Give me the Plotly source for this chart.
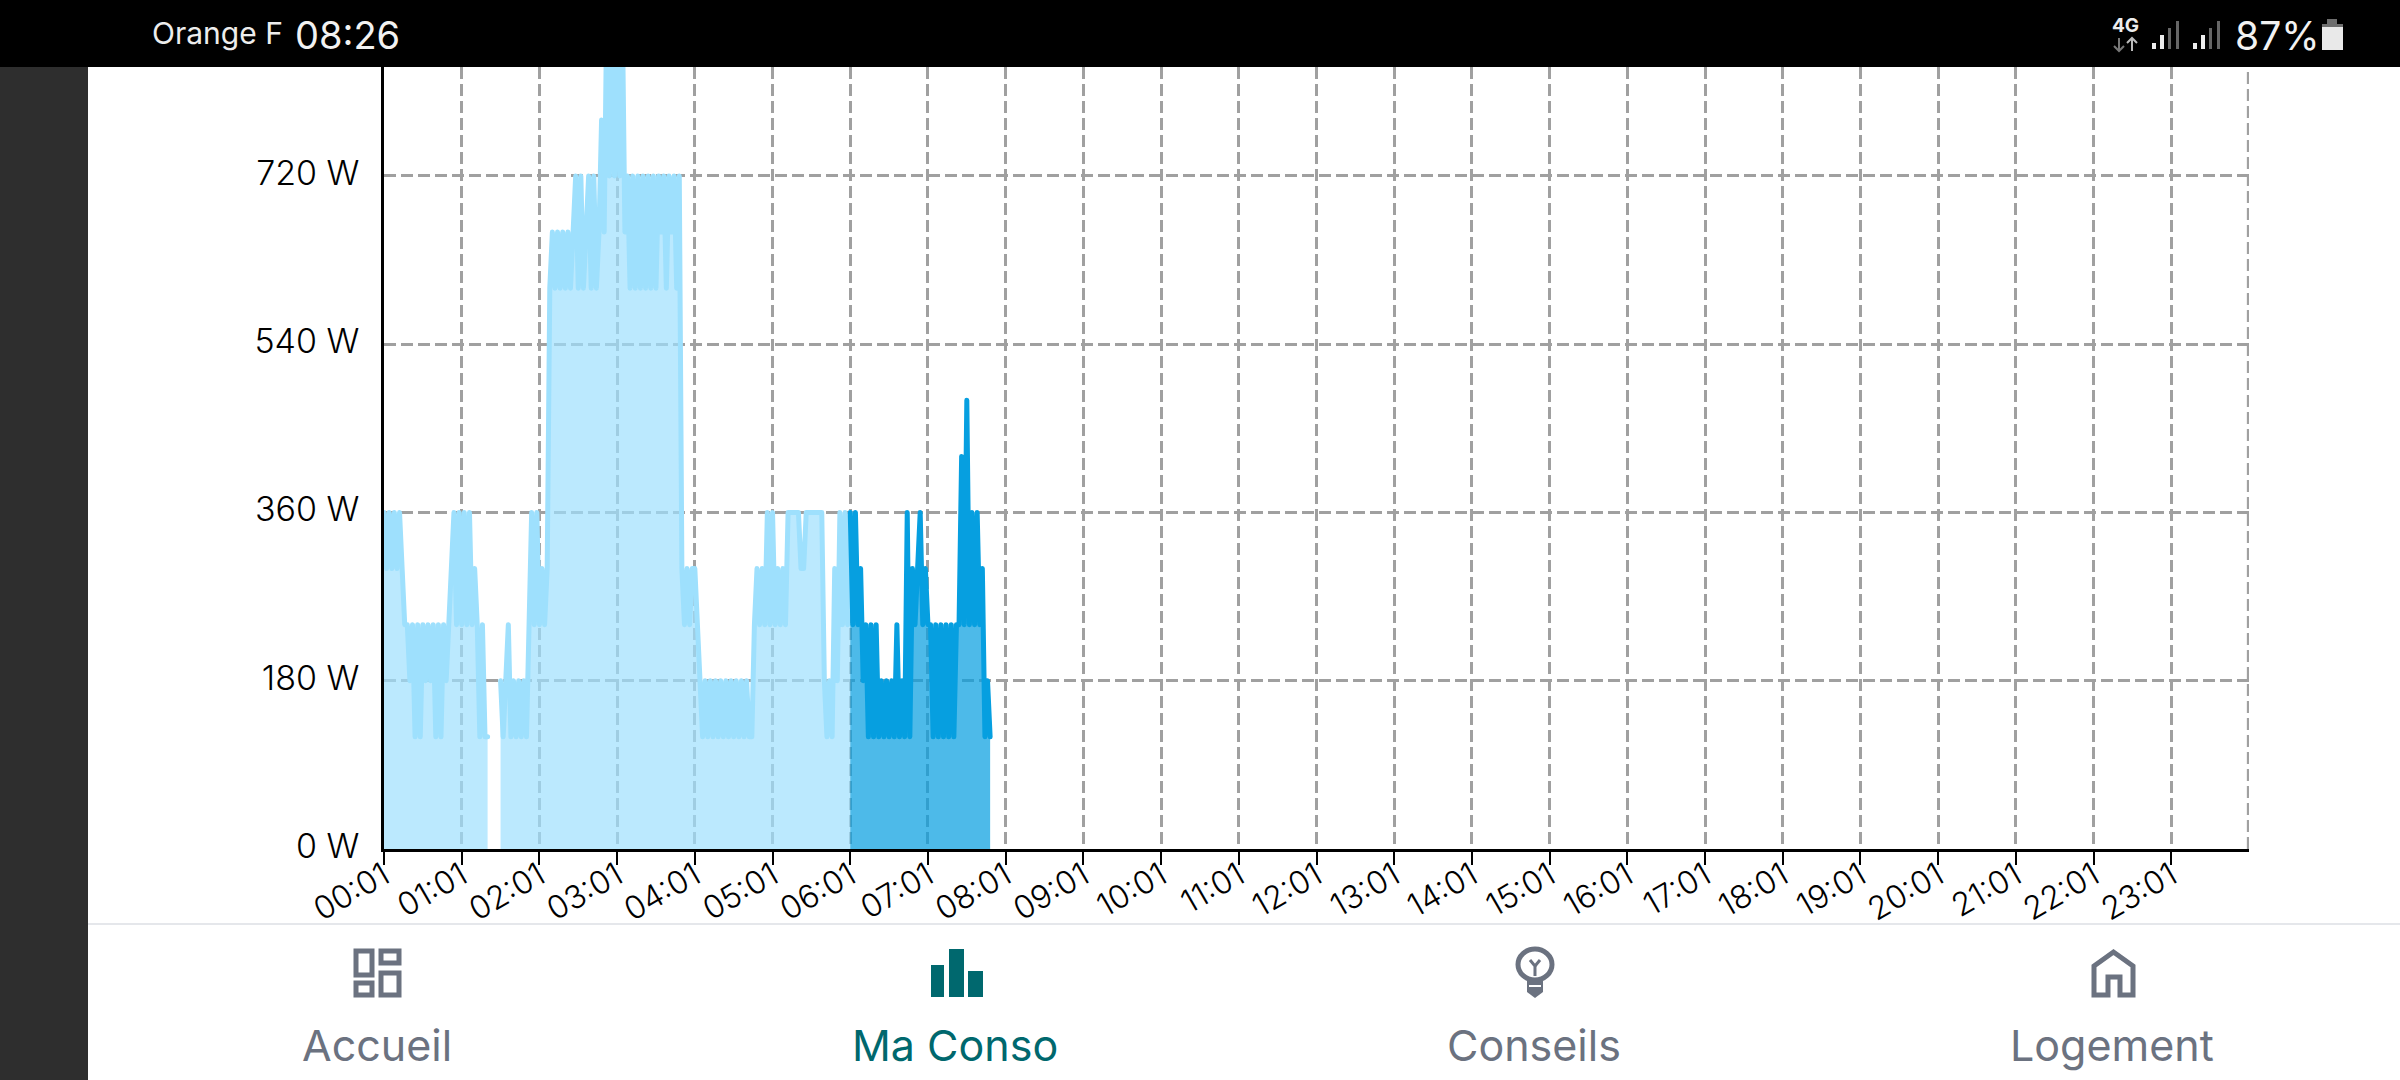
import plotly.graph_objects as go

W, H = 2400, 1080

tick_minutes = [0, 60, 120, 180, 240, 300, 360, 420, 480, 540, 600, 660, 720, 780, 840, 900,
                960, 1020, 1080, 1140, 1200, 1260, 1320, 1380]
tick_labels = ["00:01", "01:01", "02:01", "03:01", "04:01", "05:01", "06:01", "07:01", "08:01",
               "09:01", "10:01", "11:01", "12:01", "13:01", "14:01", "15:01", "16:01", "17:01",
               "18:01", "19:01", "20:01", "21:01", "22:01", "23:01"]
y_ticks = [0, 180, 360, 540, 720]
y_labels = ["0 W", "180 W", "360 W", "540 W", "720 W"]

# Power in watts, one value every two minutes, one row per hour; the feed drops out after minute 80
night_start_minutes = list(range(0, 82, 2))
night_start_watts = [
    360, 300, 360, 300, 360, 300, 360, 300, 240, 240, 180, 240, 120, 240, 120, 240, 180, 240, 180, 240, 120, 240, 120, 240, 180, 240, 300, 360, 240, 360,
    240, 360, 240, 360, 240, 300, 240, 120, 240, 120, 120,
]
earlier_minutes = list(range(90, 362, 2))
earlier_watts = [
    180, 120, 180, 240, 120, 180, 120, 180, 120, 180, 120, 240, 360, 240, 360,
    240, 300, 240, 300, 600, 660, 600, 660, 600, 660, 600, 660, 600, 660, 720, 600, 720, 600, 660, 720, 600, 720, 600, 660, 780, 660, 900, 720, 900, 720,
    900, 720, 900, 660, 720, 600, 720, 600, 720, 600, 720, 600, 720, 600, 720, 600, 720, 660, 720, 600, 720, 660, 720, 600, 720, 300, 240, 300, 240, 300,
    300, 240, 180, 120, 180, 120, 180, 120, 180, 120, 180, 120, 180, 120, 180, 120, 180, 120, 180, 120, 180, 120, 120, 240, 300, 240, 300, 240, 360, 240,
    360, 240, 300, 240, 300, 240, 360, 360, 360, 360, 360, 300, 300, 360, 360, 360, 360, 360, 360, 360, 180, 120, 180, 120, 300, 180, 360, 240, 360, 240,
    360,
]
today_minutes = list(range(360, 470, 2))
today_watts = [
    360, 240, 360, 240, 300, 180, 240, 120, 240, 120, 240, 120, 180, 120, 180, 120, 180, 120, 240, 120, 180, 120, 360, 120, 300, 240, 300, 360, 240, 300,
    240, 240, 120, 240, 120, 240, 120, 240, 120, 240, 120, 240, 240, 420, 240, 480, 240, 360, 240, 360, 240, 300, 120, 180, 120,
]

LIGHT_LINE, LIGHT_FILL = "#9EE0FD", "rgba(158,224,253,0.7)"
DARK_LINE, DARK_FILL = "#069FE0", "rgba(6,159,224,0.715)"
GREY, TEAL = "#6B7280", "#00686E"
GRID = "#A0A0A0"
GRID_DASH = "12px,5px"


def px(x):
    return x / W


def py(y):
    return 1 - y / H


def rect(x0, y0, x1, y1, fill=None, line=None, lw=0):
    return dict(type="rect", xref="paper", yref="paper", x0=px(x0), x1=px(x1), y0=py(y0), y1=py(y1),
                fillcolor=fill or "rgba(0,0,0,0)", line=dict(color=line or "rgba(0,0,0,0)", width=lw), layer="above")


def path(points, color, lw=0, fill=None, close=False):
    d = "M" + " L".join(f"{px(a):.5f},{py(b):.5f}" for a, b in points) + (" Z" if close else "")
    return dict(type="path", xref="paper", yref="paper", path=d, fillcolor=fill or "rgba(0,0,0,0)",
                line=dict(color=color, width=lw), layer="above")


def label(text, x, y, size, color, anchor="center", family="Inter", weight=None):
    return dict(text=text, x=px(x), y=py(y), xref="paper", yref="paper", xanchor=anchor, yanchor="middle",
                showarrow=False, font=dict(size=size, color=color, family=family, weight=weight))


fig = go.Figure()
for xs, ys, line_col, fill_col in [
    (night_start_minutes, night_start_watts, LIGHT_LINE, LIGHT_FILL),
    (earlier_minutes, earlier_watts, LIGHT_LINE, LIGHT_FILL),
    (today_minutes, today_watts, DARK_LINE, DARK_FILL),
]:
    fig.add_trace(go.Scatter(x=xs, y=ys, mode="lines", fill="tozeroy",
                             line=dict(color=line_col, width=5), fillcolor=fill_col, hoverinfo="skip"))

shapes = [
    # closing grid line of the day
    dict(type="line", xref="x", yref="paper", x0=1439.5, x1=1439.5, y0=py(849), y1=py(67), layer="below",
         line=dict(color=GRID, width=3, dash=GRID_DASH)),
    rect(0, 0, 2400, 67, fill="#000000"),
    rect(0, 67, 88, 1080, fill="#2E2E2E"),
    rect(88, 923, 2400, 925, fill="#E5E7EB"),
    # signal bars
    rect(2152, 43, 2156, 49, fill="#EDEDED"), rect(2160, 35, 2164, 49, fill="#EDEDED"),
    rect(2168, 28, 2171, 49, fill="#666666"), rect(2176, 21, 2179, 49, fill="#666666"),
    rect(2193, 43, 2197, 49, fill="#EDEDED"), rect(2201, 35, 2205, 49, fill="#EDEDED"),
    rect(2209, 28, 2212, 49, fill="#666666"), rect(2217, 21, 2220, 49, fill="#666666"),
    # data arrows
    path([(2119, 38), (2119, 51)], "#777777", 2), path([(2114, 46), (2119, 51), (2124, 46)], "#777777", 2),
    path([(2132, 38), (2132, 51)], "#BBBBBB", 2), path([(2127, 43), (2132, 38), (2137, 43)], "#BBBBBB", 2),
    # battery
    rect(2327, 19, 2337, 26, fill="#6E6E6E"), rect(2322, 24, 2343, 27, fill="#6E6E6E"),
    rect(2322, 27, 2343, 50, fill="#E9E9E9"),
    # Accueil
    rect(356, 951, 372, 975, line=GREY, lw=5), rect(381, 951, 399, 963, line=GREY, lw=5),
    rect(356, 983, 372, 995, line=GREY, lw=5), rect(381, 973, 399, 995, line=GREY, lw=5),
    # Ma Conso
    rect(931, 965, 944, 997, fill=TEAL), rect(949, 949, 964, 997, fill=TEAL), rect(968, 971, 983, 997, fill=TEAL),
    # Conseils
    dict(type="circle", xref="paper", yref="paper", x0=px(1518), x1=px(1552), y0=py(949), y1=py(980),
         line=dict(color=GREY, width=5), fillcolor="rgba(0,0,0,0)", layer="above"),
    path([(1527, 978), (1543, 978), (1543, 992), (1535, 998), (1527, 992)], GREY, 0, fill=GREY, close=True),
    rect(1529, 985, 1541, 987, fill="#FFFFFF"),
    path([(1535, 976), (1535, 966), (1530, 960)], GREY, 3), path([(1535, 966), (1540, 960)], GREY, 3),
    # Logement
    path([(2094, 995), (2094, 966), (2113.5, 952), (2133, 966), (2133, 995), (2120, 995), (2120, 977),
          (2108, 977), (2108, 995)], GREY, 5, close=True),
]

annotations = [
    label("Orange F", 150, 33, 30, "#EDEDED", anchor="left"),
    label("08:26", 293, 35, 38, "#F2F2F2", anchor="left"),
    label("4G", 2125, 26, 19, "#EDEDED", weight="bold"),
    label("87%", 2233, 35, 39, "#F2F2F2", anchor="left"),
    label("Accueil", 377, 1045, 43, GREY),
    label("Ma Conso", 955, 1045, 43, TEAL),
    label("Conseils", 1534, 1045, 43, GREY),
    label("Logement", 2112, 1045, 43, GREY),
]

fig.update_layout(
    width=W, height=H, margin=dict(l=0, r=0, t=0, b=0, autoexpand=False), showlegend=False,
    paper_bgcolor="#FFFFFF", plot_bgcolor="#FFFFFF", shapes=shapes, annotations=annotations,
    font=dict(family="Inter", color="#000000"),
    xaxis=dict(domain=[px(384), px(2249)], range=[0, 1440], tickmode="array", tickvals=tick_minutes, automargin=False,
               ticktext=tick_labels, tickangle=-30, tickfont=dict(size=32, color="#000000", weight=300), ticks="outside",
               ticklen=13, tickwidth=2, tickcolor="#000000", showline=True, linecolor="#000000", linewidth=2.5,
               ticklabelstandoff=-20, showgrid=True, gridcolor=GRID, gridwidth=3, griddash=GRID_DASH, zeroline=False,
               layer="below traces"),
    yaxis=dict(domain=[py(849), py(67)], range=[0, 836.6], tickmode="array", tickvals=y_ticks, ticktext=y_labels, automargin=False,
               tickfont=dict(size=34, color="#000000", weight=300), ticks="outside", ticklen=15, tickwidth=0,
               tickcolor="rgba(0,0,0,0)", showline=True, linecolor="#000000", linewidth=2.5, showgrid=True,
               gridcolor=GRID, gridwidth=3, griddash=GRID_DASH, zeroline=False, ticklabelshift=-3, layer="below traces"),
)

round_joins = ("document.body.style.margin='0';document.body.style.overflow='hidden';"
               "document.querySelectorAll('.js-line').forEach(function(p){"
               "p.style.strokeLinejoin='round';p.style.strokeLinecap='round';});")
fig.write_html("out.html", config=dict(displayModeBar=False), post_script=round_joins)
